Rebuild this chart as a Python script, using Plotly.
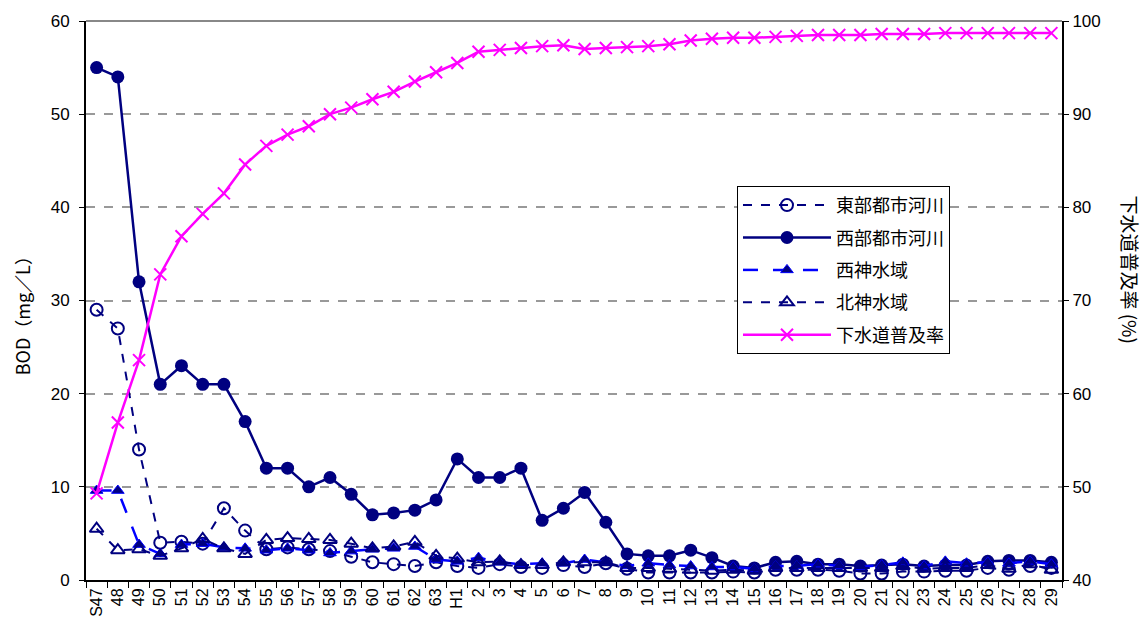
import plotly.graph_objects as go

# 年度（昭和47年度〜平成29年度）
years = ["S47", "48", "49", "50", "51", "52", "53", "54", "55", "56", "57", "58",
         "59", "60", "61", "62", "63", "H1", "2", "3", "4", "5", "6", "7", "8",
         "9", "10", "11", "12", "13", "14", "15", "16", "17", "18", "19", "20",
         "21", "22", "23", "24", "25", "26", "27", "28", "29"]

# BOD (mg/L)
east_rivers = [29, 27, 14, 4.0, 4.1, 3.9, 7.7, 5.3, 3.3, 3.5, 3.3, 3.1,
               2.5, 1.9, 1.7, 1.5, 1.9, 1.5, 1.3, 1.7, 1.4, 1.3, 1.6, 1.4, 1.8,
               1.2, 0.8, 0.8, 0.8, 0.8, 0.9, 0.8, 1.1, 1.1, 1.1, 1.0, 0.7,
               0.7, 0.9, 0.9, 1.0, 1.0, 1.3, 1.1, 1.5, 1.3]
west_rivers = [55, 54, 32, 21, 23, 21, 21, 17, 12, 12, 10, 11,
               9.2, 7.0, 7.2, 7.5, 8.6, 13, 11, 11, 12, 6.4, 7.7, 9.4, 6.2,
               2.8, 2.6, 2.6, 3.2, 2.4, 1.5, 1.3, 1.9, 2.0, 1.7, 1.7, 1.5,
               1.6, 1.7, 1.5, 1.6, 1.6, 2.0, 2.1, 2.1, 1.9]
seishin = [9.6, 9.6, 3.8, 2.8, 3.8, 3.9, 3.5, 3.4, 3.2, 3.4, 3.2, 2.9,
           3.1, 3.3, 3.4, 3.6, 2.2, 2.0, 2.4, 1.9, 1.7, 1.8, 1.8, 2.2, 1.9,
           1.5, 1.8, 1.6, 1.5, 1.4, 1.4, 1.2, 1.5, 1.5, 1.7, 1.5, 1.4,
           1.6, 1.9, 1.5, 2.0, 1.8, 1.9, 1.8, 2.0, 1.7]
hokushin = [5.5, 3.2, 3.3, 2.6, 3.4, 4.4, 3.4, 2.8, 4.3, 4.5, 4.4, 4.3,
            3.9, 3.4, 3.6, 4.1, 2.6, 2.3, 1.9, 2.0, 1.6, 1.6, 1.9, 1.9, 1.9,
            1.3, 1.3, 1.2, 1.1, 1.0, 1.1, 1.0, 1.3, 1.3, 1.3, 1.3, 1.3,
            1.3, 1.5, 1.2, 1.3, 1.3, 1.6, 1.2, 1.7, 1.1]

# 下水道普及率 (%)
sewer_rate = [49.3, 56.9, 63.6, 72.8, 76.9, 79.3, 81.5, 84.6, 86.6, 87.8, 88.7, 90.0,
              90.7, 91.6, 92.4, 93.5, 94.5, 95.5, 96.7, 96.9, 97.1, 97.3, 97.4, 97.0, 97.1,
              97.2, 97.3, 97.5, 97.9, 98.1, 98.2, 98.2, 98.3, 98.4, 98.5, 98.5, 98.5,
              98.6, 98.6, 98.6, 98.7, 98.7, 98.7, 98.7, 98.7, 98.7]

NAVY = "#000080"
BLUE = "#0000FF"
MAGENTA = "#FF00FF"
FONT = "Liberation Sans, Arial, Noto Sans CJK JP, sans-serif"
JP_FONT = "Noto Sans CJK JP, sans-serif"

fig = go.Figure()

fig.add_trace(go.Scatter(
    x=years, y=east_rivers, name="東部都市河川", mode="lines+markers", legendgroup="g1",
    line=dict(color=NAVY, width=2, dash="dash"),
    marker=dict(symbol="circle-open", size=12, color=NAVY, line=dict(width=2)),
))
fig.add_trace(go.Scatter(
    x=years, y=west_rivers, name="西部都市河川", mode="lines+markers", legendgroup="g2",
    line=dict(color=NAVY, width=2.5),
    marker=dict(symbol="circle", size=13, color=NAVY),
))
fig.add_trace(go.Scatter(
    x=years, y=seishin, name="西神水域", mode="lines+markers", legendgroup="g3",
    line=dict(color=BLUE, width=2.5, dash="longdash"),
    marker=dict(symbol="triangle-up", size=11, color=NAVY, line=dict(color=BLUE, width=1)),
))
fig.add_trace(go.Scatter(
    x=years, y=hokushin, name="北神水域", mode="lines+markers", legendgroup="g4",
    line=dict(color=NAVY, width=2, dash="dash"),
    marker=dict(symbol="triangle-up-open", size=12, color=NAVY, line=dict(width=2)),
))
fig.add_trace(go.Scatter(
    x=years, y=sewer_rate, name="下水道普及率", mode="lines+markers", yaxis="y2", legendgroup="g5",
    line=dict(color=MAGENTA, width=2.5),
    marker=dict(symbol="x-thin-open", size=12, color=MAGENTA, line=dict(color=MAGENTA, width=2)),
))

fig.update_layout(
    width=1145, height=629,
    margin=dict(l=86, r=83, t=20, b=48),
    paper_bgcolor="white", plot_bgcolor="white",
    font=dict(family=FONT, size=16, color="black"),
    showlegend=True,
    legend=dict(
        x=0.667, y=0.705, xanchor="left", yanchor="top",
        bgcolor="white", bordercolor="black", borderwidth=1,
        font=dict(size=18, family=JP_FONT),
        traceorder="grouped", tracegroupgap=6, itemwidth=88,
    ),
    xaxis=dict(
        type="category", tickangle=-90, tickson="boundaries",
        ticks="outside", ticklen=6, tickcolor="black",
        showline=True, linecolor="black", linewidth=2,
        showgrid=False, tickfont=dict(size=16),
        range=[-0.5, len(years) - 0.5],
    ),
    yaxis=dict(
        range=[0, 60], dtick=10, ticks="outside", ticklen=5, tickcolor="black",
        showline=True, linecolor="black", linewidth=2,
        showgrid=True, gridcolor="#999999", gridwidth=2, griddash="dash",
        zeroline=False, tickfont=dict(size=17), ticklabelstandoff=6,
    ),
    yaxis2=dict(
        range=[40, 100], dtick=10, overlaying="y", side="right",
        ticks="outside", ticklen=5, tickcolor="black",
        showline=True, linecolor="black", linewidth=2,
        showgrid=False, zeroline=False, tickfont=dict(size=17),
    ),
    shapes=[dict(type="line", xref="paper", yref="paper", x0=0, x1=1, y0=1, y1=1,
                 line=dict(color="#888888", width=2))],
    annotations=[
        dict(text="BOD（mg／L）", textangle=-90, xref="paper", yref="paper",
             x=-0.066, y=0.48, xanchor="center", yanchor="middle", showarrow=False,
             font=dict(size=18, family=JP_FONT)),
        dict(text="下水道普及率 (%)", textangle=90, xref="paper", yref="paper",
             x=1.07, y=0.555, xanchor="center", yanchor="middle", showarrow=False,
             font=dict(size=19, family=JP_FONT)),
    ],
)

fig.write_html("out.html")
